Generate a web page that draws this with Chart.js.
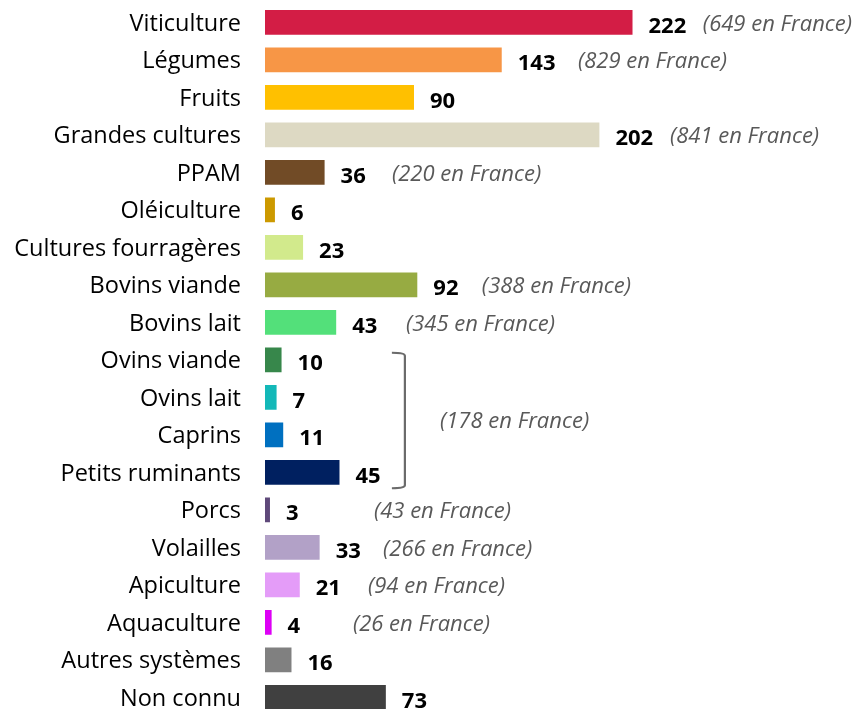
<!DOCTYPE html>
<html>
<head>
<meta charset="utf-8">
<script src="https://cdn.jsdelivr.net/npm/chart.js@4/dist/chart.umd.min.js"></script>
<style>
html,body{margin:0;padding:0;background:#fff;overflow:hidden;}
#wrap{position:relative;width:856px;height:716px;}
</style>
</head>
<body>
<div id="wrap"><canvas id="c"></canvas></div>
<script>
const categories = ['Viticulture','Légumes','Fruits','Grandes cultures','PPAM','Oléiculture','Cultures fourragères','Bovins viande','Bovins lait','Ovins viande','Ovins lait','Caprins','Petits ruminants','Porcs','Volailles','Apiculture','Aquaculture','Autres systèmes','Non connu'];
const values = [222,143,90,202,36,6,23,92,43,10,7,11,45,3,33,21,4,16,73];
const barColors = ['#D31D45','#F79646','#FFC000','#DDD9C3','#714B26','#CC9900','#D2EA8C','#97AB42','#53E07A','#37874B','#13B8B8','#0070C0','#002060','#5F497A','#B2A1C7','#E49CF8','#DD00F5','#808080','#404040'];
const franceNotes = ['(649 en France)','(829 en France)',null,'(841 en France)','(220 en France)',null,null,'(388 en France)','(345 en France)',null,null,null,null,'(43 en France)','(266 en France)','(94 en France)','(26 en France)',null,null];
// anchor of each note, in x-axis value units
const noteAnchor = [264.5,189,null,244.6,76.7,null,null,131,85.1,null,null,null,null,65.8,71.3,62.2,53.1,null,null];
const groupNote = '(178 en France)';
const groupRows = [9,12];
const groupNoteAnchor = 105.7;
const bracketAnchor = 84.5;

const overlay = {
  id:'overlay',
  afterDatasetsDraw(chart){
    const ctx = chart.ctx, xs = chart.scales.x, ys = chart.scales.y;
    ctx.save();
    ctx.textBaseline = 'middle';
    ctx.textAlign = 'left';
    values.forEach((v,i)=>{
      const y = ys.getPixelForValue(i);
      ctx.font = 'bold 22px "Open Sans"';
      ctx.fillStyle = '#000';
      ctx.fillText(String(v), xs.getPixelForValue(v)+16, y+4);
      if(franceNotes[i]){
        ctx.font = 'italic 22px "Open Sans"';
        ctx.fillStyle = '#595959';
        ctx.fillText(franceNotes[i], xs.getPixelForValue(noteAnchor[i]), y+2);
      }
    });
    // bracket
    const bx = xs.getPixelForValue(bracketAnchor);
    const top = ys.getPixelForValue(groupRows[0]) - 7;
    const bot = ys.getPixelForValue(groupRows[1]) + 16;
    ctx.strokeStyle = '#6b6b6b';
    ctx.lineWidth = 2.2;
    ctx.beginPath();
    ctx.moveTo(bx-13, top);
    ctx.quadraticCurveTo(bx, top, bx, top+3);
    ctx.lineTo(bx, bot-3);
    ctx.quadraticCurveTo(bx, bot, bx-13, bot);
    ctx.stroke();
    ctx.font = 'italic 22px "Open Sans"';
    ctx.fillStyle = '#595959';
    ctx.fillText(groupNote, xs.getPixelForValue(groupNoteAnchor), ys.getPixelForValue((groupRows[0]+groupRows[1])/2)+6);
    ctx.restore();
  }
};

new Chart(document.getElementById('c'), {
  type:'bar',
  data:{labels:categories, datasets:[{data:values, backgroundColor:barColors, barPercentage:0.66, categoryPercentage:1}]},
  options:{
    indexAxis:'y',
    responsive:true,
    maintainAspectRatio:false,
    animation:false,
    layout:{padding:{top:3.5,right:0,bottom:0,left:0}},
    plugins:{legend:{display:false},tooltip:{enabled:false}},
    scales:{
      x:{min:0,max:357,display:false,grid:{display:false}},
      y:{
        grid:{display:false,drawTicks:false},
        border:{display:false},
        ticks:{padding:24,labelOffset:2,color:'#000',font:{family:'"Open Sans"',size:23.5}},
        afterFit(s){ s.width = 265; s.paddingTop = 0; s.paddingBottom = 0; }
      }
    }
  },
  plugins:[overlay]
});
</script>
</body>
</html>
